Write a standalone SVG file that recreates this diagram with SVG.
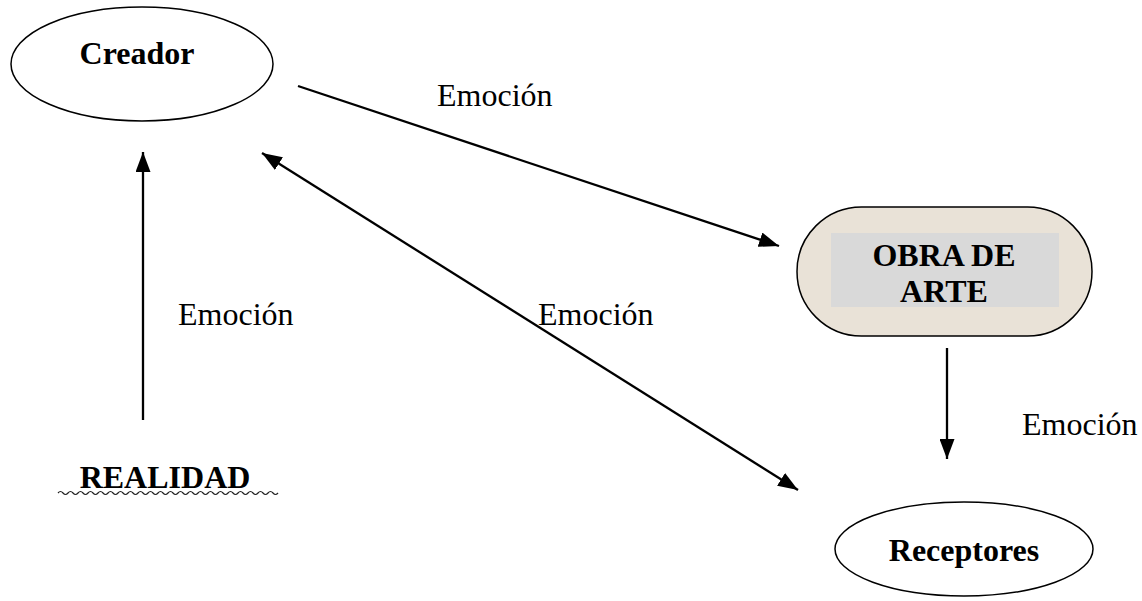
<svg xmlns="http://www.w3.org/2000/svg" width="1142" height="601" viewBox="0 0 1142 601">
<style>
.node{fill:#fff;stroke:#000;stroke-width:1.5}
.bold{font-family:"Liberation Serif","Times New Roman",serif;font-weight:bold;font-size:32px;fill:#000}
.lbl{font-family:"Liberation Serif","Times New Roman",serif;font-size:32px;fill:#000}
.conn{stroke:#000;stroke-width:2.3;fill:none}
</style>
<defs>
<marker id="ah" viewBox="0 0 20 15" refX="20" refY="7.5" markerWidth="20" markerHeight="15" markerUnits="userSpaceOnUse" orient="auto-start-reverse">
<path d="M0,0 L20,7.5 L0,15 Z" fill="#000"/>
</marker>
</defs>
<rect width="1142" height="601" fill="#fff"/>
<g id="creador">
<ellipse class="node" cx="142" cy="64" rx="131" ry="57"/>
<text class="bold" x="137" y="64" text-anchor="middle">Creador</text>
</g>
<g id="obra">
<rect x="797" y="207" width="295" height="129" rx="64.5" ry="64.5" fill="#e9e2d7" stroke="#000" stroke-width="1.5"/>
<rect x="831" y="233" width="228" height="74" fill="#d9d9d9"/>
<text class="bold" x="944" y="266" text-anchor="middle">OBRA DE</text>
<text class="bold" x="944" y="302" text-anchor="middle">ARTE</text>
</g>
<g id="receptores">
<ellipse class="node" cx="964" cy="549" rx="129" ry="47"/>
<text class="bold" x="964" y="561" text-anchor="middle">Receptores</text>
</g>
<g id="realidad">
<text class="bold" x="165" y="488" text-anchor="middle">REALIDAD</text>
<path d="M58,493 q2.5,-3 5,0 t5,0 t5,0 t5,0 t5,0 t5,0 t5,0 t5,0 t5,0 t5,0 t5,0 t5,0 t5,0 t5,0 t5,0 t5,0 t5,0 t5,0 t5,0 t5,0 t5,0 t5,0 t5,0 t5,0 t5,0 t5,0 t5,0 t5,0 t5,0 t5,0 t5,0 t5,0 t5,0 t5,0 t5,0 t5,0 t5,0 t5,0 t5,0 t5,0 t5,0 t5,0 t5,0 t5,0" fill="none" stroke="#222" stroke-width="1.2"/>
</g>
<g id="connectors">
<line class="conn" x1="143" y1="420" x2="143" y2="152" marker-end="url(#ah)"/>
<line class="conn" x1="298" y1="86" x2="779" y2="246" marker-end="url(#ah)"/>
<line class="conn" x1="262" y1="153" x2="798" y2="490" marker-start="url(#ah)" marker-end="url(#ah)"/>
<line class="conn" x1="947" y1="348" x2="947" y2="459" marker-end="url(#ah)"/>
</g>
<g id="labels">
<text class="lbl" x="437" y="106">Emoción</text>
<text class="lbl" x="178" y="325">Emoción</text>
<text class="lbl" x="538" y="325">Emoción</text>
<text class="lbl" x="1022" y="435">Emoción</text>
</g>
</svg>
